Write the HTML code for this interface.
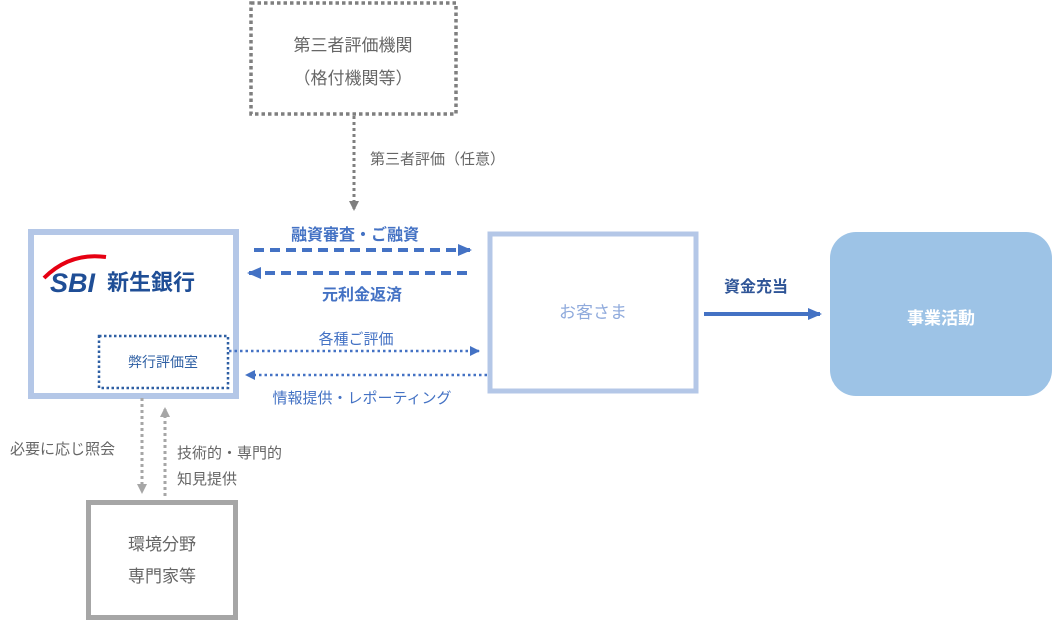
<!DOCTYPE html>
<html><head><meta charset="utf-8"><style>
html,body{margin:0;padding:0;background:#fff;}
svg{display:block;font-family:"Liberation Sans","Noto Sans CJK JP",sans-serif;}
</style></head><body>
<svg width="1052" height="621" viewBox="0 0 1052 621" xmlns="http://www.w3.org/2000/svg">
<defs>
<marker id="ab" markerWidth="14" markerHeight="14" refX="12" refY="7" orient="auto" markerUnits="userSpaceOnUse"><path d="M0,1 L14,7 L0,13 Z" fill="#4472c4"/></marker>
<marker id="abs" markerWidth="10" markerHeight="10" refX="9" refY="5" orient="auto" markerUnits="userSpaceOnUse"><path d="M0,0 L10,5 L0,10 Z" fill="#4472c4"/></marker>
<marker id="ag" markerWidth="10" markerHeight="10" refX="9" refY="5" orient="auto" markerUnits="userSpaceOnUse"><path d="M0,0 L10,5 L0,10 Z" fill="#a6a6a6"/></marker>
<marker id="ag2" markerWidth="10" markerHeight="10" refX="9" refY="5" orient="auto" markerUnits="userSpaceOnUse"><path d="M0,0 L10,5 L0,10 Z" fill="#7f7f7f"/></marker>
</defs>

<rect x="251" y="3" width="205" height="111" fill="none" stroke="#7f7f7f" stroke-width="3.5" stroke-dasharray="3.5 3"/>
<text x="353" y="51" font-size="17" fill="#666" text-anchor="middle">第三者評価機関</text>
<text x="353" y="84" font-size="17" fill="#666" text-anchor="middle">（格付機関等）</text>
<line x1="354" y1="116" x2="354" y2="210" stroke="#7f7f7f" stroke-width="3" stroke-dasharray="3 3" marker-end="url(#ag2)"/>
<text x="370" y="164" font-size="15" fill="#666">第三者評価（任意）</text>

<rect x="31" y="232" width="205" height="164" fill="#fff" stroke="#b4c7e7" stroke-width="6"/>
<path d="M44,278 Q70,252 106,257" fill="none" stroke="#e60012" stroke-width="4"/>
<text x="50" y="292" font-size="27" font-weight="bold" font-style="italic" fill="#1f4e96">SBI</text>
<text x="107" y="290" font-size="22" font-weight="bold" fill="#1f4e96">新生銀行</text>
<rect x="99" y="336" width="129" height="52" fill="none" stroke="#2e5fa3" stroke-width="2.5" stroke-dasharray="2.5 2.5"/>
<text x="163" y="367" font-size="14" fill="#2e5fa3" text-anchor="middle">弊行評価室</text>

<rect x="490" y="234" width="206" height="157" fill="#fff" stroke="#b4c7e7" stroke-width="5"/>
<text x="593" y="318" font-size="17" fill="#8faadc" text-anchor="middle">お客さま</text>

<rect x="830" y="232" width="222" height="164" rx="26" fill="#9dc3e6"/>
<text x="941" y="324" font-size="17" font-weight="bold" fill="#fff" text-anchor="middle">事業活動</text>

<line x1="254" y1="250" x2="470" y2="250" stroke="#4472c4" stroke-width="4" stroke-dasharray="10 6" marker-end="url(#ab)"/>
<text x="355" y="240" font-size="16" font-weight="bold" fill="#4472c4" text-anchor="middle">融資審査・ご融資</text>
<line x1="467" y1="273" x2="249" y2="273" stroke="#4472c4" stroke-width="4" stroke-dasharray="10 6" marker-end="url(#ab)"/>
<text x="362" y="300" font-size="16" font-weight="bold" fill="#4472c4" text-anchor="middle">元利金返済</text>
<line x1="229" y1="351" x2="479" y2="351" stroke="#4472c4" stroke-width="2.5" stroke-dasharray="2.5 3" marker-end="url(#abs)"/>
<text x="356" y="344" font-size="15" fill="#4472c4" text-anchor="middle">各種ご評価</text>
<line x1="487" y1="375" x2="246" y2="375" stroke="#4472c4" stroke-width="2.5" stroke-dasharray="2.5 3" marker-end="url(#abs)"/>
<text x="362" y="403" font-size="15" fill="#4472c4" text-anchor="middle">情報提供・レポーティング</text>
<line x1="704" y1="314" x2="820" y2="314" stroke="#4472c4" stroke-width="4" marker-end="url(#ab)"/>
<text x="756" y="292" font-size="16" font-weight="bold" fill="#2f5597" text-anchor="middle">資金充当</text>

<line x1="142" y1="398" x2="142" y2="493" stroke="#a6a6a6" stroke-width="3" stroke-dasharray="3 3" marker-end="url(#ag)"/>
<line x1="165" y1="496" x2="165" y2="408" stroke="#a6a6a6" stroke-width="3" stroke-dasharray="3 3" marker-end="url(#ag)"/>
<text x="10" y="454" font-size="15" fill="#666">必要に応じ照会</text>
<text x="177" y="458" font-size="15" fill="#666">技術的・専門的</text>
<text x="177" y="484" font-size="15" fill="#666">知見提供</text>

<rect x="88.5" y="502.5" width="147" height="115" fill="#fff" stroke="#a6a6a6" stroke-width="5"/>
<text x="162" y="550" font-size="17" fill="#666" text-anchor="middle">環境分野</text>
<text x="162" y="582" font-size="17" fill="#666" text-anchor="middle">専門家等</text>
</svg>
</body></html>
